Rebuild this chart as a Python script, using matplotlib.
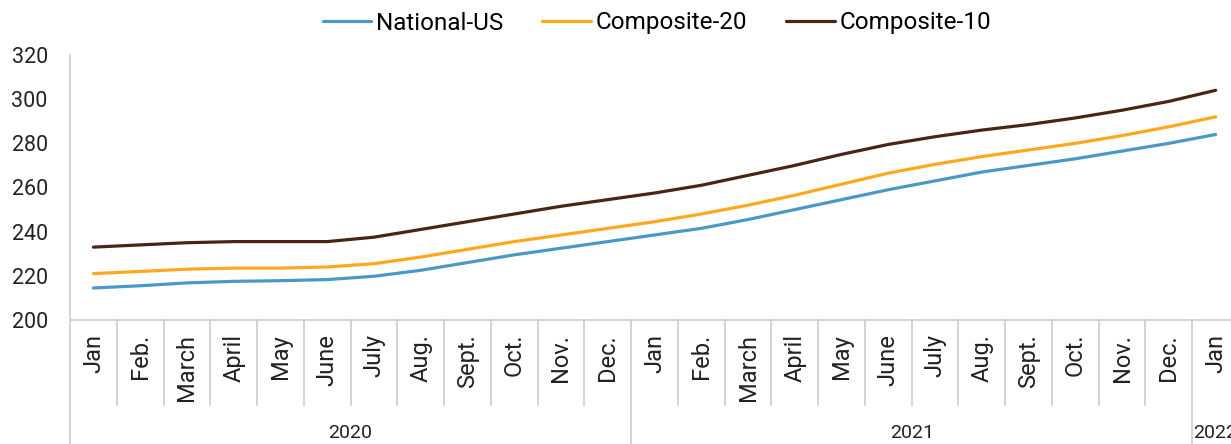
import matplotlib
matplotlib.use("Agg")
import matplotlib.pyplot as plt
import matplotlib.transforms as mtrans

plt.rcParams['font.family'] = ["Roboto", 'DejaVu Sans']

months = ["Jan", "Feb.", "March", "April", "May", "June", "July", "Aug.", "Sept.",
          "Oct.", "Nov.", "Dec.",
          "Jan", "Feb.", "March", "April", "May", "June", "July", "Aug.", "Sept.",
          "Oct.", "Nov.", "Dec.",
          "Jan"]
years = ["2020", "2021", "2022"]
months_per_year = [12, 12, 1]

national_us = [214.5, 215.5, 216.8, 217.5, 217.8, 218.3, 219.8, 222.5, 226.0, 229.5,
               232.5, 235.5, 238.5, 241.5, 245.5, 250.0, 254.5, 259.0, 263.0, 267.0,
               270.0, 273.0, 276.5, 280.0, 284.0]
composite_20 = [221.0, 222.0, 223.0, 223.5, 223.5, 224.0, 225.5, 228.5, 232.0, 235.5,
                238.5, 241.5, 244.5, 248.0, 252.0, 256.5, 261.5, 266.5, 270.5, 274.0,
                277.0, 280.0, 283.5, 287.5, 292.0]
composite_10 = [233.0, 234.0, 235.0, 235.5, 235.5, 235.5, 237.5, 241.0, 244.5, 248.0,
                251.5, 254.5, 257.5, 261.0, 265.5, 270.0, 275.0, 279.5, 283.0, 286.0,
                288.5, 291.5, 295.0, 299.0, 304.0]

W, H = 1231, 444
fig = plt.figure(figsize=(W / 100, H / 100), dpi=100)
left, right, top, bottom = 70, 1239, 55, 320
ax = fig.add_axes([left / W, 1 - bottom / H, (right - left) / W, (bottom - top) / H])

x = list(range(len(months)))
ax.plot(x, national_us, color="#4A98C8", lw=2.3, label="National-US", solid_capstyle="round")
ax.plot(x, composite_20, color="#FFA81E", lw=2.3, label="Composite-20", solid_capstyle="round")
ax.plot(x, composite_10, color="#4A2414", lw=2.3, label="Composite-10", solid_capstyle="round")

ax.set_xlim(-0.5, len(months) - 0.5)
ax.set_ylim(200, 320)
ax.set_yticks(range(200, 321, 20))
ax.tick_params(axis="y", length=0, pad=16, labelsize=15.5, labelcolor="#222222")
ax.set_xticks(x)
ax.set_xticklabels(months, rotation=90, fontsize=17, color="#222222")
ax.tick_params(axis="x", length=0, pad=10)
for lab in ax.get_xticklabels():
    lab.set_verticalalignment("top")

for s in ["top", "right"]:
    ax.spines[s].set_visible(False)
ax.spines["left"].set_color("#D0D0D0")
ax.spines["bottom"].set_color("#D0D0D0")
ax.spines["left"].set_linewidth(1.3)
ax.spines["bottom"].set_linewidth(1.3)
ax.spines["left"].set_bounds(200, 320)

trans = mtrans.blended_transform_factory(ax.transData, ax.transAxes)
h_ax = bottom - top
month_sep = -(405 - bottom) / h_ax
year_sep = -(H - bottom + 5) / h_ax
year_y = -(433 - bottom) / h_ax

bounds = [-0.5]
for n in months_per_year:
    bounds.append(bounds[-1] + n)
year_edges = set(bounds)
for i in range(len(months) + 1):
    xb = i - 0.5
    y0 = year_sep if xb in year_edges else month_sep
    ax.plot([xb, xb], [0, y0], transform=trans, color="#D0D0D0", lw=1.3, clip_on=False)

for yr, a, b in zip(years, bounds[:-1], bounds[1:]):
    ax.text((a + b) / 2, year_y, yr, transform=trans, ha="center", va="center",
            fontsize=14, color="#222222", clip_on=False)

fig.legend(loc="center", bbox_to_anchor=(657 / W, 1 - 23 / H), ncol=3, frameon=False,
           fontsize=17.5, handlelength=2.0, handletextpad=0.2, columnspacing=1.6)

fig.savefig("out.png", dpi=100)
